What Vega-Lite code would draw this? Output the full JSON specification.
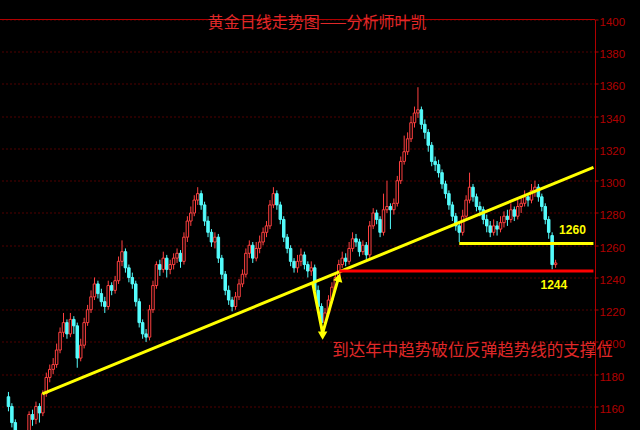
{
 "$schema": "https://vega.github.io/schema/vega-lite/v6.json",
 "autosize": "none",
 "width": 595,
 "height": 410.5,
 "padding": {"left": 0, "top": 19.5, "right": 45, "bottom": 0},
 "background": "#000000",
 "config": {"view": {"stroke": null}, "font": "Liberation Sans",
  "axis": {"labelColor": "#b00000", "domainColor": "#b00000", "tickColor": "#b00000", "gridColor": "#a00000"},
  "axisY": {"tickCount": 13, "labelOverlap": false, "format": "d", "grid": true, "gridColor": "#a00000", "gridDash": [1, 3], "gridWidth": 1, "domainColor": "#b00000", "domainWidth": 1, "tickColor": "#b00000", "tickSize": 3, "labelColor": "#b00000", "labelFontSize": 11.5, "labelPadding": 1, "labelOffset": 3, "title": null}},
 "datasets": {
  "k": [
{"d":1,"o":1166,"h":1169,"l":1157,"c":1160},
{"d":2,"o":1160,"h":1162,"l":1147,"c":1150},
{"d":3,"o":1150,"h":1152,"l":1137,"c":1140},
{"d":4,"o":1140,"h":1143,"l":1132,"c":1135},
{"d":5,"o":1135,"h":1141,"l":1132,"c":1138},
{"d":6,"o":1138,"h":1145,"l":1136,"c":1142},
{"d":7,"o":1142,"h":1157,"l":1140,"c":1155},
{"d":8,"o":1155,"h":1158,"l":1148,"c":1152},
{"d":9,"o":1152,"h":1163,"l":1149,"c":1160},
{"d":10,"o":1160,"h":1162,"l":1150,"c":1156},
{"d":11,"o":1156,"h":1170,"l":1154,"c":1168},
{"d":12,"o":1168,"h":1181,"l":1166,"c":1178},
{"d":13,"o":1178,"h":1186,"l":1175,"c":1183},
{"d":14,"o":1183,"h":1190,"l":1180,"c":1186},
{"d":15,"o":1186,"h":1199,"l":1184,"c":1195},
{"d":16,"o":1195,"h":1209,"l":1193,"c":1206},
{"d":17,"o":1206,"h":1218,"l":1203,"c":1212},
{"d":18,"o":1212,"h":1214,"l":1202,"c":1205},
{"d":19,"o":1205,"h":1218,"l":1203,"c":1214},
{"d":20,"o":1214,"h":1216,"l":1205,"c":1210},
{"d":21,"o":1210,"h":1212,"l":1184,"c":1190},
{"d":22,"o":1190,"h":1202,"l":1188,"c":1198},
{"d":23,"o":1198,"h":1215,"l":1196,"c":1212},
{"d":24,"o":1212,"h":1223,"l":1210,"c":1220},
{"d":25,"o":1220,"h":1232,"l":1218,"c":1228},
{"d":26,"o":1228,"h":1240,"l":1226,"c":1236},
{"d":27,"o":1236,"h":1238,"l":1227,"c":1230},
{"d":28,"o":1230,"h":1233,"l":1222,"c":1225},
{"d":29,"o":1225,"h":1228,"l":1218,"c":1222},
{"d":30,"o":1222,"h":1238,"l":1220,"c":1235},
{"d":31,"o":1235,"h":1237,"l":1229,"c":1232},
{"d":32,"o":1232,"h":1241,"l":1230,"c":1238},
{"d":33,"o":1238,"h":1253,"l":1236,"c":1250},
{"d":34,"o":1250,"h":1263,"l":1247,"c":1256},
{"d":35,"o":1256,"h":1258,"l":1243,"c":1246},
{"d":36,"o":1246,"h":1248,"l":1237,"c":1240},
{"d":37,"o":1240,"h":1243,"l":1233,"c":1236},
{"d":38,"o":1236,"h":1238,"l":1222,"c":1225},
{"d":39,"o":1225,"h":1227,"l":1209,"c":1212},
{"d":40,"o":1212,"h":1214,"l":1202,"c":1205},
{"d":41,"o":1205,"h":1208,"l":1200,"c":1203},
{"d":42,"o":1203,"h":1223,"l":1201,"c":1220},
{"d":43,"o":1220,"h":1238,"l":1218,"c":1235},
{"d":44,"o":1235,"h":1250,"l":1233,"c":1248},
{"d":45,"o":1248,"h":1251,"l":1241,"c":1245},
{"d":46,"o":1245,"h":1256,"l":1243,"c":1252},
{"d":47,"o":1252,"h":1254,"l":1240,"c":1245},
{"d":48,"o":1245,"h":1251,"l":1242,"c":1248},
{"d":49,"o":1248,"h":1255,"l":1245,"c":1252},
{"d":50,"o":1252,"h":1258,"l":1249,"c":1255},
{"d":51,"o":1255,"h":1257,"l":1246,"c":1250},
{"d":52,"o":1250,"h":1268,"l":1248,"c":1265},
{"d":53,"o":1265,"h":1278,"l":1262,"c":1275},
{"d":54,"o":1275,"h":1284,"l":1272,"c":1280},
{"d":55,"o":1280,"h":1291,"l":1278,"c":1288},
{"d":56,"o":1288,"h":1296,"l":1285,"c":1292},
{"d":57,"o":1292,"h":1294,"l":1282,"c":1285},
{"d":58,"o":1285,"h":1287,"l":1272,"c":1275},
{"d":59,"o":1275,"h":1278,"l":1265,"c":1268},
{"d":60,"o":1268,"h":1270,"l":1259,"c":1262},
{"d":61,"o":1262,"h":1268,"l":1258,"c":1265},
{"d":62,"o":1265,"h":1267,"l":1249,"c":1252},
{"d":63,"o":1252,"h":1254,"l":1239,"c":1242},
{"d":64,"o":1242,"h":1244,"l":1229,"c":1232},
{"d":65,"o":1232,"h":1235,"l":1223,"c":1226},
{"d":66,"o":1226,"h":1228,"l":1219,"c":1222},
{"d":67,"o":1222,"h":1231,"l":1220,"c":1228},
{"d":68,"o":1228,"h":1239,"l":1226,"c":1236},
{"d":69,"o":1236,"h":1245,"l":1234,"c":1242},
{"d":70,"o":1242,"h":1258,"l":1240,"c":1255},
{"d":71,"o":1255,"h":1263,"l":1252,"c":1260},
{"d":72,"o":1260,"h":1262,"l":1249,"c":1252},
{"d":73,"o":1252,"h":1262,"l":1250,"c":1258},
{"d":74,"o":1258,"h":1266,"l":1255,"c":1262},
{"d":75,"o":1262,"h":1271,"l":1260,"c":1268},
{"d":76,"o":1268,"h":1275,"l":1265,"c":1272},
{"d":77,"o":1272,"h":1288,"l":1270,"c":1285},
{"d":78,"o":1285,"h":1296,"l":1283,"c":1292},
{"d":79,"o":1292,"h":1294,"l":1282,"c":1285},
{"d":80,"o":1285,"h":1287,"l":1273,"c":1276},
{"d":81,"o":1276,"h":1278,"l":1262,"c":1265},
{"d":82,"o":1265,"h":1267,"l":1255,"c":1258},
{"d":83,"o":1258,"h":1260,"l":1247,"c":1250},
{"d":84,"o":1250,"h":1252,"l":1243,"c":1246},
{"d":85,"o":1246,"h":1254,"l":1243,"c":1250},
{"d":86,"o":1250,"h":1258,"l":1247,"c":1254},
{"d":87,"o":1254,"h":1256,"l":1245,"c":1248},
{"d":88,"o":1248,"h":1250,"l":1240,"c":1244},
{"d":89,"o":1244,"h":1250,"l":1241,"c":1246},
{"d":90,"o":1246,"h":1248,"l":1229,"c":1232},
{"d":91,"o":1232,"h":1235,"l":1219,"c":1222},
{"d":92,"o":1222,"h":1224,"l":1207,"c":1212},
{"d":93,"o":1212,"h":1221,"l":1210,"c":1218},
{"d":94,"o":1218,"h":1229,"l":1216,"c":1226},
{"d":95,"o":1226,"h":1237,"l":1224,"c":1234},
{"d":96,"o":1234,"h":1243,"l":1232,"c":1240},
{"d":97,"o":1240,"h":1251,"l":1238,"c":1248},
{"d":98,"o":1248,"h":1256,"l":1246,"c":1252},
{"d":99,"o":1252,"h":1255,"l":1247,"c":1250},
{"d":100,"o":1250,"h":1262,"l":1248,"c":1258},
{"d":101,"o":1258,"h":1268,"l":1256,"c":1264},
{"d":102,"o":1264,"h":1267,"l":1259,"c":1262},
{"d":103,"o":1262,"h":1264,"l":1253,"c":1256},
{"d":104,"o":1256,"h":1263,"l":1254,"c":1260},
{"d":105,"o":1260,"h":1262,"l":1251,"c":1254},
{"d":106,"o":1254,"h":1275,"l":1252,"c":1272},
{"d":107,"o":1272,"h":1283,"l":1270,"c":1280},
{"d":108,"o":1280,"h":1282,"l":1273,"c":1276},
{"d":109,"o":1276,"h":1278,"l":1265,"c":1268},
{"d":110,"o":1268,"h":1292,"l":1266,"c":1282},
{"d":111,"o":1282,"h":1300,"l":1280,"c":1284},
{"d":112,"o":1284,"h":1286,"l":1270,"c":1282},
{"d":113,"o":1282,"h":1289,"l":1279,"c":1286},
{"d":114,"o":1286,"h":1303,"l":1284,"c":1300},
{"d":115,"o":1300,"h":1315,"l":1298,"c":1312},
{"d":116,"o":1312,"h":1328,"l":1310,"c":1318},
{"d":117,"o":1318,"h":1330,"l":1316,"c":1326},
{"d":118,"o":1326,"h":1340,"l":1324,"c":1336},
{"d":119,"o":1336,"h":1346,"l":1333,"c":1342},
{"d":120,"o":1342,"h":1358,"l":1339,"c":1344},
{"d":121,"o":1344,"h":1346,"l":1332,"c":1335},
{"d":122,"o":1335,"h":1338,"l":1326,"c":1330},
{"d":123,"o":1330,"h":1332,"l":1318,"c":1322},
{"d":124,"o":1322,"h":1324,"l":1309,"c":1312},
{"d":125,"o":1312,"h":1315,"l":1306,"c":1310},
{"d":126,"o":1310,"h":1313,"l":1302,"c":1305},
{"d":127,"o":1305,"h":1307,"l":1295,"c":1298},
{"d":128,"o":1298,"h":1300,"l":1289,"c":1292},
{"d":129,"o":1292,"h":1294,"l":1282,"c":1285},
{"d":130,"o":1285,"h":1287,"l":1275,"c":1278},
{"d":131,"o":1278,"h":1280,"l":1269,"c":1272},
{"d":132,"o":1272,"h":1275,"l":1262,"c":1268},
{"d":133,"o":1268,"h":1282,"l":1266,"c":1278},
{"d":134,"o":1278,"h":1291,"l":1276,"c":1288},
{"d":135,"o":1288,"h":1305,"l":1286,"c":1296},
{"d":136,"o":1296,"h":1298,"l":1287,"c":1290},
{"d":137,"o":1290,"h":1292,"l":1281,"c":1284},
{"d":138,"o":1284,"h":1287,"l":1278,"c":1282},
{"d":139,"o":1282,"h":1284,"l":1273,"c":1276},
{"d":140,"o":1276,"h":1279,"l":1268,"c":1272},
{"d":141,"o":1272,"h":1275,"l":1265,"c":1268},
{"d":142,"o":1268,"h":1276,"l":1266,"c":1272},
{"d":143,"o":1272,"h":1275,"l":1266,"c":1270},
{"d":144,"o":1270,"h":1278,"l":1268,"c":1274},
{"d":145,"o":1274,"h":1281,"l":1271,"c":1278},
{"d":146,"o":1278,"h":1282,"l":1272,"c":1276},
{"d":147,"o":1276,"h":1286,"l":1274,"c":1282},
{"d":148,"o":1282,"h":1284,"l":1275,"c":1278},
{"d":149,"o":1278,"h":1288,"l":1276,"c":1284},
{"d":150,"o":1284,"h":1290,"l":1280,"c":1286},
{"d":151,"o":1286,"h":1294,"l":1284,"c":1290},
{"d":152,"o":1290,"h":1292,"l":1284,"c":1288},
{"d":153,"o":1288,"h":1298,"l":1286,"c":1294},
{"d":154,"o":1294,"h":1300,"l":1290,"c":1296},
{"d":155,"o":1296,"h":1298,"l":1287,"c":1290},
{"d":156,"o":1290,"h":1292,"l":1281,"c":1284},
{"d":157,"o":1284,"h":1286,"l":1273,"c":1276},
{"d":158,"o":1276,"h":1278,"l":1264,"c":1268},
{"d":159,"o":1266,"h":1268,"l":1245,"c":1248},
{"d":160,"o":1248,"h":1251,"l":1246,"c":1249}
  ],
  "trend": [{"d": 10.86, "p": 1167.8}, {"d": 171.0, "p": 1308.3}],
  "arrow": [{"d": 89.4, "p": 1236.6}, {"d": 92.3, "p": 1205.5}, {"d": 97.0, "p": 1240.5}]
 },
 "layer": [
  {
   "data": {"values": [{"p": 1400}]},
   "mark": {"type": "rule", "color": "#b00000", "strokeWidth": 1},
   "encoding": {
    "y": {"field": "p", "type": "quantitative", "scale": {"domain": [1145.4, 1400], "nice": false, "zero": false},
     "axis": {"orient": "right", "values": [1160,1180,1200,1220,1240,1260,1280,1300,1320,1340,1360,1380,1400], "labelColor": "#b00000", "domainColor": "#b00000", "tickColor": "#b00000"}}
   }
  },
  {
   "data": {"name": "k"},
   "mark": {"type": "rule", "strokeWidth": 1, "clip": true},
   "encoding": {
    "x": {"field": "d", "type": "quantitative", "scale": {"domain": [0, 170], "nice": false, "zero": false}, "axis": null},
    "y": {"field": "l", "type": "quantitative", "axis": {"orient": "right", "values": [1160,1180,1200,1220,1240,1260,1280,1300,1320,1340,1360,1380,1400], "labelColor": "#b00000", "domainColor": "#b00000", "tickColor": "#b00000"}},
    "y2": {"field": "h"},
    "color": {"condition": {"test": "datum.c >= datum.o", "value": "#ff4040"}, "value": "#54fcfc"}
   }
  },
  {
   "data": {"name": "k"},
   "mark": {"type": "bar", "width": 2.5, "strokeWidth": 1, "clip": true},
   "encoding": {
    "x": {"field": "d", "type": "quantitative"},
    "y": {"field": "o", "type": "quantitative", "axis": {"orient": "right", "values": [1160,1180,1200,1220,1240,1260,1280,1300,1320,1340,1360,1380,1400], "labelColor": "#b00000", "domainColor": "#b00000", "tickColor": "#b00000"}},
    "y2": {"field": "c"},
    "fill": {"condition": {"test": "datum.c >= datum.o", "value": "#000000"}, "value": "#54fcfc"},
    "stroke": {"condition": {"test": "datum.c >= datum.o", "value": "#ff4040"}, "value": "#54fcfc"}
   }
  },
  {
   "data": {"name": "trend"},
   "mark": {"type": "line", "color": "#ffff00", "strokeWidth": 3},
   "encoding": {"x": {"field": "d", "type": "quantitative"}, "y": {"field": "p", "type": "quantitative", "axis": {"orient": "right", "values": [1160,1180,1200,1220,1240,1260,1280,1300,1320,1340,1360,1380,1400], "labelColor": "#b00000", "domainColor": "#b00000", "tickColor": "#b00000"}}}
  },
  {
   "data": {"values": [{"a": 132, "b": 171, "p": 1261}]},
   "mark": {"type": "rule", "color": "#ffff00", "strokeWidth": 3},
   "encoding": {"x": {"field": "a", "type": "quantitative"}, "x2": {"field": "b"}, "y": {"field": "p", "type": "quantitative", "axis": {"orient": "right", "values": [1160,1180,1200,1220,1240,1260,1280,1300,1320,1340,1360,1380,1400], "labelColor": "#b00000", "domainColor": "#b00000", "tickColor": "#b00000"}}}
  },
  {
   "data": {"values": [{"a": 97.1, "b": 171, "p": 1244}]},
   "mark": {"type": "rule", "color": "#ff0000", "strokeWidth": 3},
   "encoding": {"x": {"field": "a", "type": "quantitative"}, "x2": {"field": "b"}, "y": {"field": "p", "type": "quantitative", "axis": {"orient": "right", "values": [1160,1180,1200,1220,1240,1260,1280,1300,1320,1340,1360,1380,1400], "labelColor": "#b00000", "domainColor": "#b00000", "tickColor": "#b00000"}}}
  },
  {
   "data": {"name": "arrow"},
   "mark": {"type": "line", "color": "#ffff00", "strokeWidth": 3},
   "encoding": {"x": {"field": "d", "type": "quantitative"}, "y": {"field": "p", "type": "quantitative", "axis": {"orient": "right", "values": [1160,1180,1200,1220,1240,1260,1280,1300,1320,1340,1360,1380,1400], "labelColor": "#b00000", "domainColor": "#b00000", "tickColor": "#b00000"}}}
  },
  {
   "data": {"values": [{"d": 92.3, "p": 1204}]},
   "mark": {"type": "point", "shape": "triangle-down", "filled": true, "color": "#ffff00", "size": 90, "opacity": 1},
   "encoding": {"x": {"field": "d", "type": "quantitative"}, "y": {"field": "p", "type": "quantitative", "axis": {"orient": "right", "values": [1160,1180,1200,1220,1240,1260,1280,1300,1320,1340,1360,1380,1400], "labelColor": "#b00000", "domainColor": "#b00000", "tickColor": "#b00000"}}}
  },
  {
   "data": {"values": [{"d": 97.0, "p": 1240}]},
   "mark": {"type": "point", "shape": "triangle-up", "angle": 15, "filled": true, "color": "#ffff00", "size": 90, "opacity": 1},
   "encoding": {"x": {"field": "d", "type": "quantitative"}, "y": {"field": "p", "type": "quantitative", "axis": {"orient": "right", "values": [1160,1180,1200,1220,1240,1260,1280,1300,1320,1340,1360,1380,1400], "labelColor": "#b00000", "domainColor": "#b00000", "tickColor": "#b00000"}}}
  },
  {
   "data": {"values": [{"d": 58.9, "p": 1397.6, "t": "黄金日线走势图——分析师叶凯"}]},
   "mark": {"type": "text", "align": "left", "baseline": "middle", "font": "Noto Sans CJK SC", "fontSize": 16, "color": "#e02828"},
   "encoding": {"x": {"field": "d", "type": "quantitative"}, "y": {"field": "p", "type": "quantitative", "axis": {"orient": "right", "values": [1160,1180,1200,1220,1240,1260,1280,1300,1320,1340,1360,1380,1400], "labelColor": "#b00000", "domainColor": "#b00000", "tickColor": "#b00000"}}, "text": {"field": "t"}}
  },
  {
   "data": {"values": [{"d": 95.1, "p": 1194.4, "t": "到达年中趋势破位反弹趋势线的支撑位"}]},
   "mark": {"type": "text", "align": "left", "baseline": "middle", "font": "Noto Sans CJK SC", "fontSize": 16.5, "color": "#e02828"},
   "encoding": {"x": {"field": "d", "type": "quantitative"}, "y": {"field": "p", "type": "quantitative", "axis": {"orient": "right", "values": [1160,1180,1200,1220,1240,1260,1280,1300,1320,1340,1360,1380,1400], "labelColor": "#b00000", "domainColor": "#b00000", "tickColor": "#b00000"}}, "text": {"field": "t"}}
  },
  {
   "data": {"values": [{"d": 164.9, "p": 1269.5, "t": "1260"}, {"d": 159.5, "p": 1235.4, "t": "1244"}]},
   "mark": {"type": "text", "align": "center", "baseline": "middle", "fontSize": 12, "fontWeight": "bold", "color": "#ffff00"},
   "encoding": {"x": {"field": "d", "type": "quantitative"}, "y": {"field": "p", "type": "quantitative", "axis": {"orient": "right", "values": [1160,1180,1200,1220,1240,1260,1280,1300,1320,1340,1360,1380,1400], "labelColor": "#b00000", "domainColor": "#b00000", "tickColor": "#b00000"}}, "text": {"field": "t"}}
  }
 ]
}
